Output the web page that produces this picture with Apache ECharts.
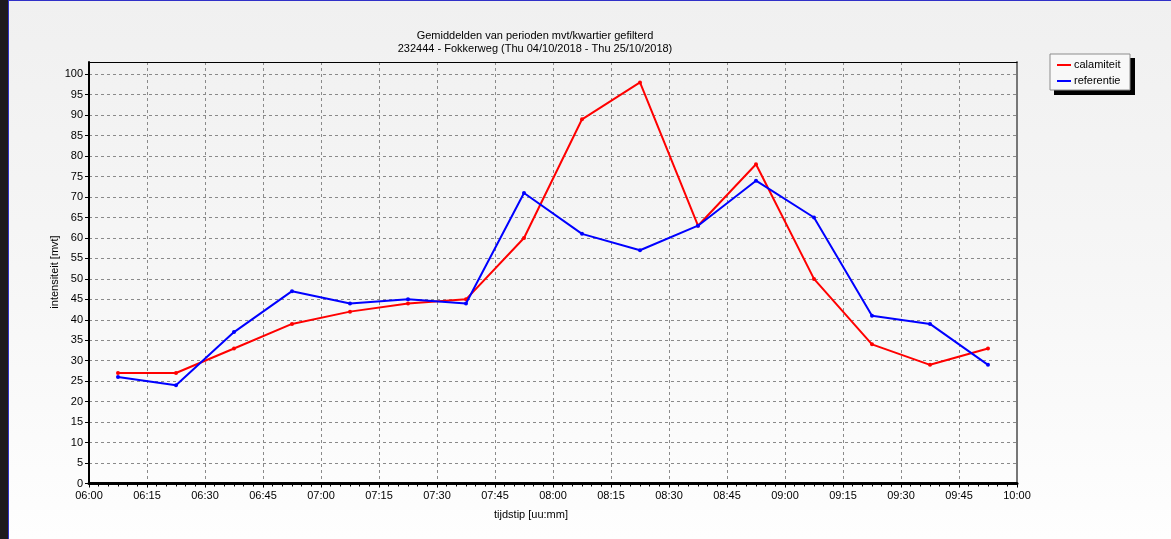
<!DOCTYPE html>
<html>
<head>
<meta charset="utf-8">
<script src="https://cdn.jsdelivr.net/npm/echarts@6/dist/echarts.min.js"></script>
<style>
html,body{margin:0;padding:0;}
body{width:1171px;height:539px;background:linear-gradient(to bottom,#f0f0f0 0%,#f6f6f6 50%,#fefefe 100%);overflow:hidden;}
#c{width:1171px;height:539px;}
</style>
</head>
<body>
<div id="c"></div>
<script>
// ---- data ----
var times = ["06:07:30","06:22:30","06:37:30","06:52:30","07:07:30","07:22:30","07:37:30","07:52:30",
             "08:07:30","08:22:30","08:37:30","08:52:30","09:07:30","09:22:30","09:37:30","09:52:30"];
var calamiteit = [27,27,33,39,42,44,45,60,89,98,63,78,50,34,29,33];
var referentie = [26,24,37,47,44,45,44,71,61,57,63,74,65,41,39,29];
var xTickLabels = ["06:00","06:15","06:30","06:45","07:00","07:15","07:30","07:45","08:00",
                   "08:15","08:30","08:45","09:00","09:15","09:30","09:45","10:00"];
var seriesNames = ["calamiteit","referentie"];
var titleLines = ["Gemiddelden van perioden mvt/kwartier gefilterd",
                  "232444 - Fokkerweg (Thu 04/10/2018 - Thu 25/10/2018)"];
var yName = "intensiteit [mvt]";
var xName = "tijdstip [uu:mm]";

function toMin(t){ var p=t.split(":"); return (+p[0]-6)*60 + (+p[1]) + (+(p[2]||0))/60; }
function pairs(vals){ return vals.map(function(v,i){ return [toMin(times[i]), v]; }); }

var FONT = "Liberation Sans";
var chart = echarts.init(document.getElementById('c'), null, {renderer:'canvas'});
var gridLine = {show:true, lineStyle:{color:'#8a8a8a', type:[3,3], width:1}};

chart.setOption({
  backgroundColor:'transparent',
  animation:false,
  textStyle:{fontFamily:FONT, color:'#000'},
  title:{
    text: titleLines.join('\n'),
    left: 530, top: 24, textAlign:'center',
    textStyle:{fontFamily:FONT, fontSize:11, fontWeight:'normal', color:'#000', lineHeight:13}
  },
  legend:{
    orient:'vertical', left:1057, top:59, z:10,
    data: seriesNames,
    padding:0, itemGap:4, itemWidth:14, itemHeight:2,
    icon:'rect',
    textStyle:{fontFamily:FONT, fontSize:11, color:'#000', lineHeight:12, padding:[0,0,0,-2]}
  },
  grid:{left:89, right:154, top:62, bottom:55.5, containLabel:false},
  xAxis:[{
    type:'value', min:0, max:240, interval:15, position:'bottom',
    axisLine:{show:true, onZero:false, lineStyle:{color:'#000', width:3}},
    axisTick:{show:true, length:4, lineStyle:{color:'#000'}},
    minorTick:{show:true, splitNumber:6, length:3, lineStyle:{color:'#000'}},
    axisLabel:{fontFamily:FONT, fontSize:11, color:'#000', margin:7,
      formatter:function(v){ return xTickLabels[Math.round(v/15)]; }},
    splitLine:gridLine
  },{
    type:'value', min:0, max:240, position:'top',
    axisLine:{show:true, onZero:false, lineStyle:{color:'#000', width:1}},
    axisTick:{show:false}, axisLabel:{show:false}, splitLine:{show:false}
  }],
  yAxis:[{
    type:'value', min:0, max:103, interval:5, position:'left',
    axisLine:{show:true, onZero:false, lineStyle:{color:'#000', width:2}},
    axisTick:{show:true, length:4, lineStyle:{color:'#000'}},
    axisLabel:{fontFamily:FONT, fontSize:11, color:'#000', margin:6, showMaxLabel:false,
      formatter:function(v){ return (v%5===0 && v<=100) ? String(v) : ''; }},
    splitLine:gridLine
  },{
    type:'value', min:0, max:103, position:'right',
    axisLine:{show:true, onZero:false, lineStyle:{color:'#777', width:2}},
    axisTick:{show:false}, axisLabel:{show:false}, splitLine:{show:false}
  }],
  graphic:[
    {type:'rect', left:0, top:0, shape:{width:8, height:539}, style:{fill:'#1e1a1e'}, z:100},
    {type:'rect', left:8, top:0, shape:{width:1, height:539}, style:{fill:'#3030c8'}, z:100},
    {type:'rect', left:8, top:0, shape:{width:1163, height:1}, style:{fill:'#3030c8'}, z:100},
    {type:'rect', left:1054, top:58, shape:{width:81, height:37}, style:{fill:'#000'}, z:1},
    {type:'rect', left:1049.5, top:53.5, shape:{width:80, height:36}, style:{fill:'#f8f8f8', stroke:'#8c8c8c', lineWidth:1}, z:2},
    {type:'text', x:55, y:272, rotation:Math.PI/2, z:100,
      style:{text:yName, fontFamily:FONT, fontSize:11, fill:'#000', textAlign:'center', textVerticalAlign:'middle'}},
    {type:'text', x:531, y:515, z:100,
      style:{text:xName, fontFamily:FONT, fontSize:11, fill:'#000', textAlign:'center', textVerticalAlign:'middle'}}
  ],
  series:[
    {name:seriesNames[0], type:'line', data:pairs(calamiteit), xAxisIndex:0, yAxisIndex:0,
      color:'#ff0000', lineStyle:{color:'#ff0000', width:2},
      symbol:'circle', symbolSize:4, itemStyle:{color:'#ff0000'}, z:3},
    {name:seriesNames[1], type:'line', data:pairs(referentie), xAxisIndex:0, yAxisIndex:0,
      color:'#0000ff', lineStyle:{color:'#0000ff', width:2},
      symbol:'circle', symbolSize:4, itemStyle:{color:'#0000ff'}, z:4}
  ]
});
</script>
</body>
</html>
